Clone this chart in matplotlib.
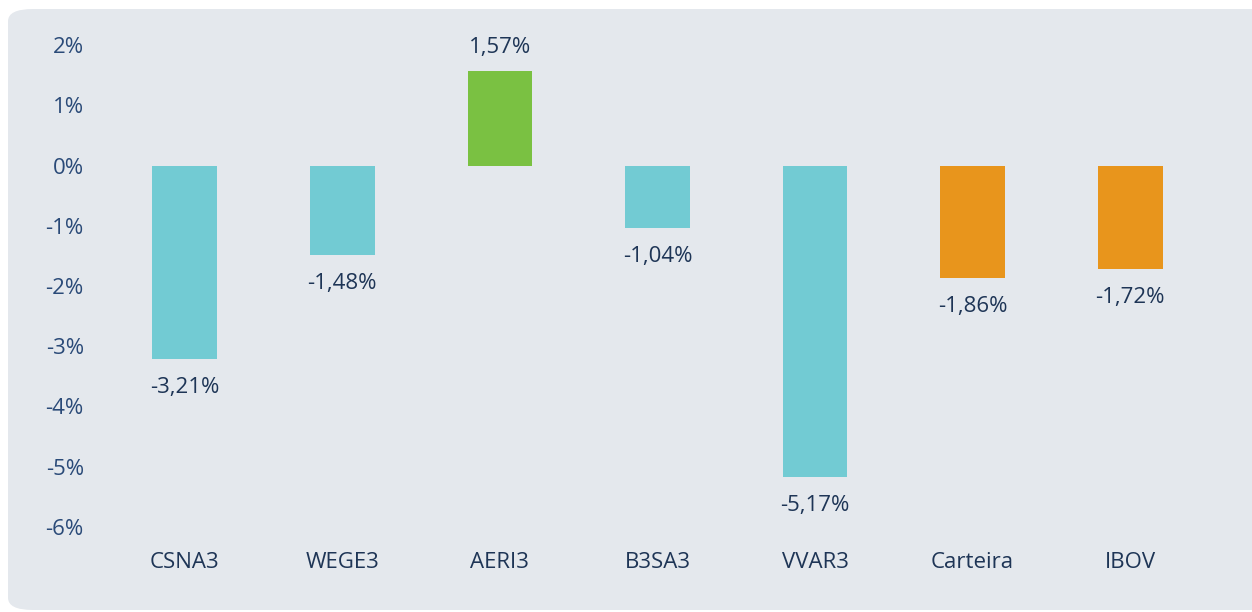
import matplotlib.pyplot as plt
from matplotlib.patches import FancyBboxPatch

tickers = ['CSNA3', 'WEGE3', 'AERI3', 'B3SA3', 'VVAR3', 'Carteira', 'IBOV']
returns = [-3.21, -1.48, 1.57, -1.04, -5.17, -1.86, -1.72]
colors = ['#72CBD3', '#72CBD3', '#7AC142', '#72CBD3', '#72CBD3', '#E8951C', '#E8951C']
yticks = [2, 1, 0, -1, -2, -3, -4, -5, -6]

text_color = '#1E3556'
tick_color = '#2A4A78'
bg = '#E4E8ED'

plt.rcParams['font.family'] = ['Open Sans', 'DejaVu Sans']

fig = plt.figure(figsize=(12.52, 6.12), dpi=100)
fig.patch.set_facecolor('white')
panel = FancyBboxPatch((8 / 1252, 2 / 612), 1.2, 1 - 11 / 612,
                       boxstyle='round,pad=0,rounding_size=0.02',
                       transform=fig.transFigure, facecolor=bg,
                       edgecolor='none', zorder=-10)
fig.patches.append(panel)

# axes placed so that 2% sits at y=45px and -6% at y=527px
ax = fig.add_axes([106 / 1252, 1 - 539 / 612, (1209 - 106) / 1252, (539 - 33) / 612])
ax.set_facecolor('none')

x = range(len(tickers))
ax.bar(x, returns, width=0.41, color=colors)

fs = 16
for i, v in enumerate(returns):
    label = f'{v:.2f}%'.replace('.', ',')
    if v >= 0:
        ax.annotate(label, (i, v), xytext=(0, 9), textcoords='offset points',
                    ha='center', va='bottom', fontsize=fs, color=text_color)
    else:
        ax.annotate(label, (i, v), xytext=(0, -13), textcoords='offset points',
                    ha='center', va='top', fontsize=fs, color=text_color)

ax.set_xlim(-0.5, len(tickers) - 0.5)
ax.set_ylim(-6.2, 2.2)
ax.set_yticks(yticks)
ax.set_yticklabels([f'{t}%' for t in yticks], fontsize=fs, color=tick_color)
ax.set_xticks(list(x))
ax.set_xticklabels(tickers, fontsize=fs, color=text_color)
ax.tick_params(axis='y', length=0, pad=16)
ax.tick_params(axis='x', length=0, pad=9)
for s in ax.spines.values():
    s.set_visible(False)

fig.savefig('out.png', dpi=100, facecolor='white')
